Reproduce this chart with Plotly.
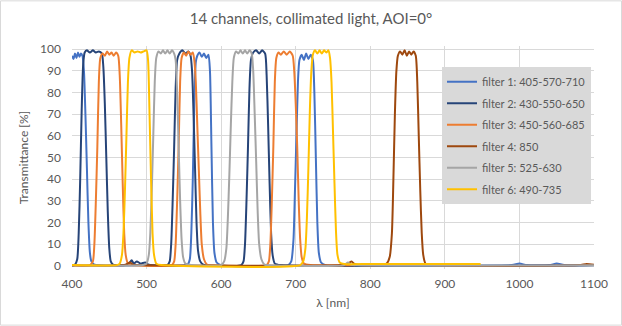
import plotly.graph_objects as go

# ---------------- data ----------------
series_names = ["filter 1: 405-570-710", "filter 2: 430-550-650", "filter 3: 450-560-685",
                "filter 4: 850", "filter 5: 525-630", "filter 6: 490-735"]
series_colors = ["#4472C4", "#264478", "#ED7D31", "#9E480E", "#A5A5A5", "#FFC000"]

f1_wl = [400, 402, 404, 406, 408, 410, 412, 414, 416, 418, 420, 422, 424, 426, 430, 500, 555, 558, 560, 562, 564, 566,
         568, 571, 574, 577, 580, 583, 585, 587, 589, 591, 594, 600, 690, 694, 697, 699, 701, 703, 705, 708,
         711, 714, 717, 720, 723, 725, 727, 729, 731, 734, 740, 900, 990, 1000, 1010, 1040, 1050, 1060, 1100]
f1_T = [97, 95.5, 98, 96, 98.5, 96.5, 98, 97, 90, 70, 45, 20, 6, 2, 0.5, 0.3, 0.5, 3, 15, 40, 75, 94,
        97, 98.5, 96.5, 98, 96, 97.5, 90, 55, 20, 6, 1.5, 0.3, 0.3, 2, 12, 35, 60, 85, 95, 97.5,
        95, 98, 95.5, 97.5, 95, 80, 50, 20, 6, 1.5, 0.3, 0.2, 0.3, 1, 0.3, 0.3, 1, 0.3, 0.3]

f2_wl = [400, 404, 407, 409, 411, 413, 415, 417, 420, 424, 428, 432, 436, 440, 442, 444, 446, 448, 450, 452, 455,
         475, 480, 483, 487, 492, 498, 503, 528, 531, 533, 535, 537, 539, 541, 544, 548, 552, 556, 559, 561,
         563, 565, 567, 569, 572, 576, 627, 630, 632, 634, 636, 638, 640, 643, 647, 651, 655, 659, 661, 663,
         665, 667, 669, 672, 680, 1100]
f2_T = [0, 0.5, 3, 15, 40, 72, 93, 98.5, 99.5, 98.5, 99.5, 98.5, 99, 98, 92, 75, 50, 25, 8, 2, 0.5,
        0.5, 2.5, 1, 2, 1, 1.5, 0.5, 0.3, 2, 10, 30, 55, 82, 95, 98, 99.5, 98, 99, 97, 90,
        70, 45, 20, 7, 2, 0.5, 0.3, 2, 10, 30, 55, 82, 95, 98.5, 99.5, 98, 99.5, 98, 88, 65,
        38, 15, 5, 1, 0.3, 0.2]

f3_wl = [400, 424, 428, 430, 432, 434, 436, 438, 441, 444, 447, 450, 453, 456, 459, 462, 464, 466, 468, 470, 472,
         475, 480, 534, 537, 539, 541, 543, 545, 547, 550, 553, 556, 559, 562, 564, 566, 568, 570, 572, 574,
         577, 581, 590, 661, 664, 666, 668, 670, 672, 674, 677, 680, 684, 688, 692, 696, 698, 700, 702, 704,
         706, 708, 711, 720, 780]
f3_T = [0.2, 0.3, 2, 10, 30, 55, 85, 96, 98, 97, 99, 97.5, 98.5, 97, 98.5, 97, 88, 65, 38, 15, 5,
        1, 0.3, 0.3, 2, 10, 30, 55, 85, 96, 98.5, 97, 99, 97.5, 98.5, 95, 85, 65, 45, 25, 10,
        3, 0.5, 0.2, 0.3, 2, 10, 30, 55, 85, 96, 98.5, 97.5, 99, 97.5, 99, 97, 90, 75, 55, 30,
        12, 4, 1, 0.3, 0.2]

f4_wl = [400, 470, 478, 482, 490, 760, 770, 775, 778, 785, 815, 822, 826, 829, 831, 833, 835, 837, 840, 843, 846,
         849, 852, 855, 858, 861, 863, 865, 867, 869, 871, 874, 880, 1080, 1090, 1100]
f4_T = [0.2, 0.3, 1.5, 0.5, 0.3, 0.3, 1, 2, 1, 0.3, 0.3, 1, 4, 15, 40, 70, 90, 97, 99, 97.5, 99.5,
        97, 99, 97.5, 99, 97, 85, 60, 35, 15, 5, 1, 0.3, 0.3, 0.8, 0.5]

f5_wl = [400, 495, 500, 503, 505, 507, 509, 511, 513, 516, 519, 522, 525, 528, 531, 534, 537, 539, 541, 543, 545,
         547, 549, 552, 560, 600, 604, 607, 609, 611, 613, 615, 617, 620, 623, 626, 629, 632, 635, 638, 641,
         643, 645, 647, 649, 651, 654, 658, 665, 765, 770, 774, 780, 1100]
f5_T = [0.2, 0.3, 1, 5, 15, 35, 60, 85, 96, 99, 98, 99.5, 98, 99.5, 98, 99.5, 98, 95, 80, 55, 30,
        12, 4, 1, 0.3, 0.3, 2, 8, 22, 42, 65, 85, 96, 99, 98, 99.5, 98, 99.5, 98, 99.5, 98,
        90, 70, 48, 25, 10, 3, 0.5, 0.2, 0.3, 1.5, 0.5, 0.2, 0.2]

f6_wl = [400, 460, 464, 467, 469, 471, 473, 475, 477, 480, 484, 488, 492, 496, 500, 502, 504, 506, 508, 510, 513,
         520, 706, 710, 713, 715, 717, 719, 721, 723, 726, 729, 732, 735, 738, 741, 744, 746, 748, 750, 752,
         754, 756, 759, 765, 800, 900, 948]
f6_T = [0.3, 0.3, 1, 5, 15, 35, 60, 85, 96, 99.5, 98.5, 99, 98.5, 99, 99.5, 95, 70, 40, 15, 5, 1,
        0.3, 0.3, 2, 8, 22, 45, 72, 90, 97.5, 99.5, 98, 99.5, 98, 99.5, 98.5, 99.5, 96, 85, 62, 38,
        16, 5, 1.5, 0.8, 0.8, 0.8, 0.8]

series_wl = [f1_wl, f2_wl, f3_wl, f4_wl, f5_wl, f6_wl]
series_T = [f1_T, f2_T, f3_T, f4_T, f5_T, f6_T]

x_ticks = [400, 500, 600, 700, 800, 900, 1000, 1100]
y_ticks = [0, 10, 20, 30, 40, 50, 60, 70, 80, 90, 100]

title_text = "14 channels, collimated light, AOI=0°"
x_title = "λ [nm]"
y_title = "Transmittance [%]"

# ---------------- figure ----------------
FONT = "Lato, Carlito, 'Noto Sans', sans-serif"
TXT = "#595959"
GRID = "#D9D9D9"

fig = go.Figure()
for i, (name, col, wl, T) in enumerate(zip(series_names, series_colors, series_wl, series_T)):
    fig.add_trace(go.Scatter(
        x=wl, y=T, name=name, mode="lines",
        line=dict(color=col, width=2, shape="spline", smoothing=0.6),
        legendgroup=f"g{i}",
    ))

W, H = 622, 326
L, R, T0, B = 72, 28, 49, 60  # plot area for 0..100 range
pad = 1.5
pxu = (H - T0 - B) / 100.0

fig.update_layout(
    width=W, height=H,
    paper_bgcolor="white", plot_bgcolor="white",
    margin=dict(l=L, r=R, t=T0 - pad * pxu, b=B - pad * pxu, pad=0),
    font=dict(family=FONT, size=12, color=TXT),
    title=dict(text=title_text, x=0.5, xanchor="center", y=1 - 19 / H, yanchor="middle",
               font=dict(family=FONT, size=15, color=TXT)),
    showlegend=True,
    legend=dict(
        x=(442 - L) / (W - L - R), xanchor="left",
        y=1 - (67 - (T0 - pad * pxu)) / (H - T0 - B + 2 * pad * pxu), yanchor="top",
        bgcolor="#D9D9D9", borderwidth=0,
        font=dict(family=FONT, size=11, color=TXT),
        traceorder="grouped", tracegroupgap=2.5,
        itemwidth=30,
    ),
    xaxis=dict(
        range=[400, 1100], tickvals=x_ticks, ticktext=[str(v) for v in x_ticks],
        showgrid=True, gridcolor=GRID, gridwidth=1, zeroline=False,
        showline=False, ticks="", ticklabelstandoff=6,
        tickfont=dict(family=FONT, size=12, color=TXT),
        title=dict(text=x_title, standoff=8, font=dict(family=FONT, size=12, color=TXT)),
    ),
    yaxis=dict(
        range=[-pad, 100 + pad], tickvals=y_ticks, ticktext=[str(v) for v in y_ticks],
        showgrid=True, gridcolor=GRID, gridwidth=1, zeroline=False,
        showline=False, ticks="", ticklabelstandoff=10,
        tickfont=dict(family=FONT, size=12, color=TXT),
        title=dict(text=y_title, standoff=8, font=dict(family=FONT, size=12, color=TXT)),
    ),
)

# bottom axis line at 0 (Excel category axis line)
fig.add_shape(type="line", xref="x", yref="y", x0=400, x1=1100, y0=0, y1=0,
              line=dict(color="#BFBFBF", width=1), layer="below")
# chart-area border
fig.add_shape(type="rect", xref="paper", yref="paper",
              x0=-(L - 0.5) / (W - L - R), x1=1 + (R - 0.5) / (W - L - R),
              y0=-(B - pad * pxu - 0.5) / (H - T0 - B + 2 * pad * pxu),
              y1=1 + (T0 - pad * pxu - 0.5) / (H - T0 - B + 2 * pad * pxu),
              line=dict(color="#D9D9D9", width=1), fillcolor="rgba(0,0,0,0)", layer="below")

fig.write_html("out.html")
